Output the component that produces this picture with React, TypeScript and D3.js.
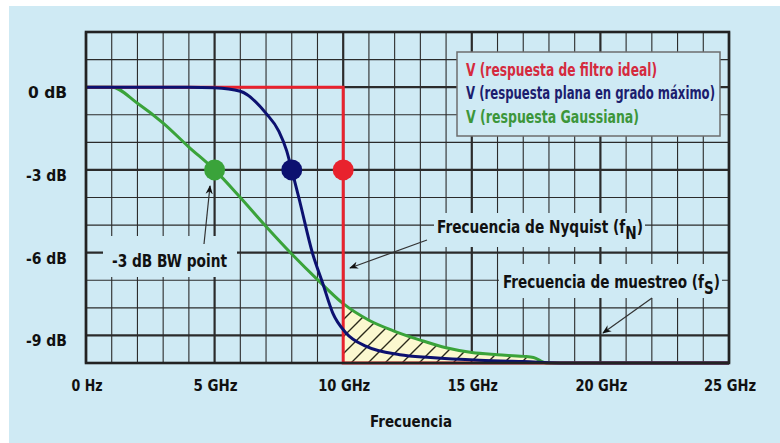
import React from "react";
import * as d3 from "d3";

// ---- data ----
const xTickValues = [0, 5, 10, 15, 20, 25];
const xTickLabels = ["0 Hz", "5 GHz", "10 GHz", "15 GHz", "20 GHz", "25 GHz"];
const yTickValues = [0, -3, -6, -9];
const yTickLabels = ["0 dB", "-3 dB", "-6 dB", "-9 dB"];

const idealFreq = [0, 10, 10, 25];
const idealDb = [0, 0, -10, -10];

const flatFreq = [0, 4, 5, 6, 7, 7.5, 7.8, 8, 8.3, 8.8, 9.2, 9.6, 10.1, 10.9, 12.2, 13.4, 15.3, 17, 19, 25];
const flatDb = [0, 0, -0.02, -0.15, -0.95, -1.6, -2.3, -3, -4.1, -6, -7.1, -8.2, -8.9, -9.4, -9.7, -9.8, -9.9, -9.95, -10, -10];

const gaussFreq = [0, 1, 2, 3, 4, 5, 6, 7, 8, 9, 10, 11, 12, 13, 14, 15, 16, 17, 17.4, 17.9, 25];
const gaussDb = [0, 0, -0.58, -1.3, -2.17, -3, -4.0, -5.05, -6.05, -6.98, -7.85, -8.45, -8.85, -9.17, -9.45, -9.62, -9.7, -9.76, -9.8, -10, -10];

const dotFreq = [5, 8, 10];
const dotDb = [-3, -3, -3];
const dotColors = ["#3aa33a", "#0c1170", "#e8222d"];

const legendLabels = [
  "V (respuesta de filtro ideal)",
  "V (respuesta plana en grado máximo)",
  "V (respuesta Gaussiana)",
];
const legendColors = ["#d52a3e", "#1c1d6e", "#3c963a"];

const FONT = "'DejaVu Sans Condensed', 'Liberation Sans Narrow', Arial, sans-serif";
const BG = "#cfeaf4";

export default function App() {
  const W = 780, H = 443;
  const left = 86, right = 729, top = 32, bottom = 363;
  const x = d3.scaleLinear().domain([0, 25]).range([left, right]);
  const y = d3.scaleLinear().domain([-10, 2]).range([bottom, top]);

  const line = d3.line<[number, number]>().x(d => x(d[0])).y(d => y(d[1]));
  const smooth = d3.line<[number, number]>().x(d => x(d[0])).y(d => y(d[1])).curve(d3.curveMonotoneX);

  const ideal: [number, number][] = idealFreq.map((f, i) => [f, idealDb[i]]);
  const flat: [number, number][] = flatFreq.map((f, i) => [f, flatDb[i]]);
  const gauss: [number, number][] = gaussFreq.map((f, i) => [f, gaussDb[i]]);
  const aliasPts = gauss.filter(d => d[0] >= 10 && d[0] <= 18);
  const area = d3.area<[number, number]>().x(d => x(d[0])).y0(() => y(-10)).y1(d => y(d[1])).curve(d3.curveMonotoneX);

  const minorX = d3.range(0, 26, 1);
  const minorY = d3.range(-10, 3, 1);

  const legendWidths = [191, 249, 173];
  const legendBaselines = [76, 99, 122.5];
  const yLabelWidths = [39, 41, 41, 41];
  const xLabelWidths = [31, 44, 52, 50, 52, 52];

  return (
    <svg width={W} height={H} style={{ position: "absolute", left: 0, top: 0 }} fontFamily={FONT} fontWeight="bold">
      <defs>
        <pattern id="hatch" width="17" height="17" patternUnits="userSpaceOnUse">
          <rect width="17" height="17" fill="#fbf8cf" />
          <path d="M-2,19 L19,-2 M-2,2 L2,-2 M15,19 L19,15" stroke="#2a2a1a" strokeWidth="1.4" />
        </pattern>
        <marker id="arrow" viewBox="0 0 10 10" refX="9" refY="5" markerWidth="9" markerHeight="9" orient="auto" markerUnits="userSpaceOnUse">
          <path d="M0,1 L10,5 L0,9 L3,5 Z" fill="#111" />
        </marker>
      </defs>
      <rect width={W} height={H} fill="#ffffff" />
      <rect x={9} y={6} width={W - 9} height={H - 6} fill={BG} />

      {/* grid */}
      {minorX.map(v => (
        <line key={"gx" + v} x1={x(v)} x2={x(v)} y1={top} y2={bottom} stroke="#2b2b2b" strokeWidth={v % 5 === 0 ? 2.2 : 1.1} />
      ))}
      {minorY.map(v => (
        <line key={"gy" + v} x1={left} x2={right} y1={y(v)} y2={y(v)} stroke="#2b2b2b" strokeWidth={v % 3 === 0 ? 2.2 : 1.1} />
      ))}

      {/* annotation masks */}
      <rect x={103} y={236} width={134} height={41} fill={BG} />
      <rect x={434} y={213} width={211} height={34} fill={BG} />
      <rect x={499} y={264} width={223} height={34} fill={BG} />

      {/* aliasing area */}
      <path d={area(aliasPts) || ""} fill="url(#hatch)" />

      {/* curves */}
      <path d={smooth(gauss) || ""} fill="none" stroke="#3aa33a" strokeWidth={3} />
      <path d={line(ideal) || ""} fill="none" stroke="#e8222d" strokeWidth={3} />
      <path d={smooth(flat) || ""} fill="none" stroke="#0c1170" strokeWidth={3} />

      {/* border */}
      <rect x={left} y={top} width={right - left} height={bottom - top} fill="none" stroke="#222" strokeWidth={2.6} />

      {dotFreq.map((f, i) => (
        <circle key={"d" + i} cx={x(f)} cy={y(dotDb[i])} r={10.5} fill={dotColors[i]} />
      ))}

      {/* legend */}
      <rect x={457} y={52} width={263} height={84} fill={BG} stroke="#6d6d6d" strokeWidth={1.5} />
      {legendLabels.map((t, i) => (
        <text key={"l" + i} x={466} y={legendBaselines[i]} fontSize={17} fill={legendColors[i]}
          textLength={legendWidths[i]} lengthAdjust="spacingAndGlyphs">{t}</text>
      ))}

      {/* axes labels */}
      {yTickValues.map((v, i) => (
        <text key={"yt" + v} x={67 - yLabelWidths[i]} y={y(v) + 11} fontSize={16} fill="#111"
          textLength={yLabelWidths[i]} lengthAdjust="spacingAndGlyphs">{yTickLabels[i]}</text>
      ))}
      {xTickValues.map((v, i) => (
        <text key={"xt" + v} x={x(v) + 1 - xLabelWidths[i] / 2} y={391} fontSize={16} fill="#111"
          textLength={xLabelWidths[i]} lengthAdjust="spacingAndGlyphs">{xTickLabels[i]}</text>
      ))}
      <text x={370} y={427} fontSize={16.5} fill="#111" textLength={82} lengthAdjust="spacingAndGlyphs">Frecuencia</text>

      {/* annotations */}
      <text x={112} y={267} fontSize={17} fill="#111" textLength={115} lengthAdjust="spacingAndGlyphs">-3 dB BW point</text>
      <line x1={204} y1={244} x2={210} y2={186} stroke="#333" strokeWidth={1.2} markerEnd="url(#arrow)" />

      <text x={437} y={232.5} fontSize={17} fill="#111" textLength={206} lengthAdjust="spacingAndGlyphs">
        Frecuencia de Nyquist (f<tspan dy={6.5}>N</tspan><tspan dy={-6.5}>)</tspan>
      </text>
      <line x1={427} y1={240} x2={350} y2={268} stroke="#333" strokeWidth={1.2} markerEnd="url(#arrow)" />

      <text x={503} y={287.5} fontSize={17} fill="#111" textLength={217} lengthAdjust="spacingAndGlyphs">
        Frecuencia de muestreo (f<tspan dy={6.5}>S</tspan><tspan dy={-6.5}>)</tspan>
      </text>
      <line x1={652} y1={298} x2={603} y2={333} stroke="#333" strokeWidth={1.2} markerEnd="url(#arrow)" />
    </svg>
  );
}
